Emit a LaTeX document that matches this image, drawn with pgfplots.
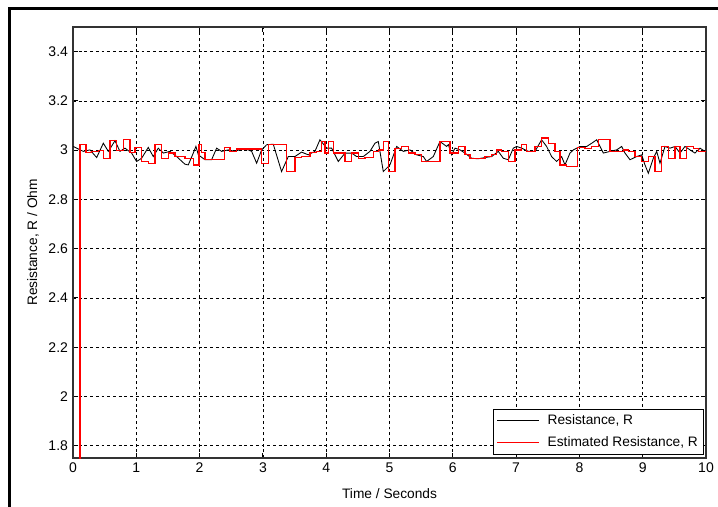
\documentclass[border=0pt]{standalone}
\usepackage{fontspec}
\setmainfont{Liberation Sans}
\usepackage{pgfplots}
\pgfplotsset{compat=1.18}
\begin{document}
\begin{tikzpicture}[x=1pt,y=1pt,font=\fontsize{9.6}{11.5}\selectfont]
\path[use as bounding box] (-51.1,-33.6) rectangle (451.5,320.6);
\draw[line width=2.1pt] (-44.1,-40) -- (-44.1,314.3) -- (460,314.3);
\begin{axis}[
  at={(0,0)}, anchor=south west, scale only axis,
  width=443.1pt, height=301.7pt,
  xmin=0, xmax=10, ymin=1.75, ymax=3.5,
  xtick={0,1,2,3,4,5,6,7,8,9,10},
  ytick={1.8,2.0,2.2,2.4,2.6,2.8,3.0,3.2,3.4},
  yticklabels={1.8,2,2.2,2.4,2.6,2.8,3,3.2,3.4},
  /pgf/number format/assume math mode=true,
  tick label style={font=\fontsize{9.8}{11.5}\selectfont},
  tick align=inside,
  major tick length=3.5pt,
  tick style={black, line width=0.6pt},
  grid=major,
  major grid style={black, line width=0.5pt, dash pattern=on 2pt off 2pt},
  axis line style={black!80, line width=0.9pt},
  every axis x label/.style={at={(rel axis cs:0.5,0)}, yshift=-25.2pt, anchor=center},
  every axis y label/.style={at={(rel axis cs:0,0.5)}, xshift=-28pt, rotate=90, anchor=center},
  xlabel={Time / Seconds},
  ylabel={Resistance, R / Ohm},
  legend style={at={(1,0)}, anchor=south east, xshift=-1.4pt, yshift=2.1pt,
    draw=black, line width=0.6pt, fill=white, inner sep=2pt, row sep=3pt,
    font=\fontsize{9.6}{11.5}\selectfont},
  legend cell align=left,
  legend image code/.code={\draw[#1] (0pt,0pt) -- (29pt,0pt); \path (33pt,0pt);},
]
\addplot[black, line width=0.6pt] coordinates {
(0.005,3.015) (0.058,3.008) (0.163,2.995) (0.268,3.001) (0.374,2.970) (0.479,3.028)
(0.558,2.995) (0.663,3.038) (0.742,2.995) (0.821,3.008) (0.926,2.988) (1.005,2.954)
(1.084,2.967) (1.189,3.011) (1.268,2.974) (1.347,3.008) (1.426,2.988) (1.532,2.995)
(1.637,2.974) (1.768,2.943) (1.821,2.940) (1.900,2.988) (1.942,3.015) (1.980,2.981)
(2.085,2.961) (2.190,2.961) (2.269,3.008) (2.348,2.995) (2.453,3.001) (2.559,2.995)
(2.664,3.005) (2.769,3.001) (2.822,2.995) (2.901,2.947) (2.980,3.001) (3.059,3.022)
(3.164,3.024) (3.295,2.913) (3.401,2.974) (3.506,2.974) (3.611,2.992) (3.716,2.981)
(3.822,2.995) (3.901,3.042) (4.007,3.008) (4.086,3.008) (4.191,2.954) (4.297,2.988)
(4.402,2.988) (4.481,2.974) (4.586,2.974) (4.691,2.995) (4.770,3.028) (4.823,3.035)
(4.902,2.913) (5.007,2.940) (5.113,3.015) (5.218,2.995) (5.323,3.001) (5.428,2.981)
(5.534,2.974) (5.586,2.954) (5.692,2.974) (5.797,3.035) (5.902,3.015) (5.930,3.022)
(5.982,2.981) (6.035,3.008) (6.114,3.001) (6.193,2.988) (6.298,2.967) (6.403,2.965)
(6.509,2.970) (6.614,2.974) (6.719,2.995) (6.798,2.967) (6.877,2.961) (6.956,3.008)
(7.009,3.015) (7.088,3.008) (7.193,2.995) (7.298,2.995) (7.403,3.042) (7.482,3.015)
(7.561,2.974) (7.640,2.954) (7.719,2.974) (7.772,2.940) (7.851,2.988) (7.905,3.001)
(8.010,3.015) (8.115,3.015) (8.194,3.028) (8.273,3.042) (8.378,2.988) (8.484,2.995)
(8.589,3.001) (8.668,3.015) (8.720,2.988) (8.799,2.961) (8.905,2.974) (8.984,2.981)
(9.036,2.940) (9.089,2.906) (9.168,2.967) (9.221,2.995) (9.273,2.947) (9.352,3.015)
(9.431,3.008) (9.510,3.015) (9.589,2.988) (9.668,3.015) (9.747,3.001) (9.826,2.988)
(9.905,3.008) (9.984,2.995)
};
\addlegendentry{Resistance, R}
\addplot[red, line width=0.85pt, const plot] coordinates {
(0,1.5) (0.111,3.024) (0.205,2.992) (0.295,2.995) (0.400,2.997) (0.479,2.967)
(0.584,3.038) (0.689,2.997) (0.795,3.042) (0.900,2.992) (0.979,3.011) (1.084,2.954)
(1.189,2.947) (1.295,3.024) (1.400,2.967) (1.505,2.988) (1.611,2.974) (1.768,2.967)
(1.900,2.940) (1.990,3.022) (2.030,2.992) (2.085,2.961) (2.390,3.011) (2.480,2.995)
(2.585,3.005) (2.980,2.947) (3.085,3.024) (3.375,2.913) (3.506,2.970) (3.611,2.974)
(3.743,2.992) (3.848,2.995) (3.920,3.035) (3.981,2.988) (4.034,3.035) (4.113,2.988)
(4.297,2.954) (4.402,2.988) (4.507,2.967) (4.613,2.970) (4.744,2.995) (4.823,3.001)
(4.902,3.035) (4.981,2.913) (5.086,3.008) (5.192,3.015) (5.297,2.988) (5.402,2.981)
(5.507,2.954) (5.797,3.035) (5.956,2.988) (6.087,3.015) (6.193,2.981) (6.272,2.967)
(6.430,2.965) (6.509,2.974) (6.614,2.981) (6.693,3.001) (6.772,2.995) (6.877,2.954)
(6.982,3.001) (7.088,3.022) (7.166,2.995) (7.298,3.015) (7.403,3.049) (7.509,3.028)
(7.614,2.995) (7.693,2.940) (7.798,2.934) (7.968,3.011) (8.089,3.008) (8.194,3.015)
(8.299,3.042) (8.484,2.995) (8.694,3.001) (8.773,2.995) (8.878,2.974) (8.984,2.954)
(9.089,2.974) (9.194,2.913) (9.299,3.015) (9.405,2.967) (9.510,3.015) (9.589,2.967)
(9.694,3.015) (9.799,3.008) (9.878,2.995) (10.0,2.995)
};
\addlegendentry{Estimated Resistance, R}
\end{axis}
\end{tikzpicture}
\end{document}
